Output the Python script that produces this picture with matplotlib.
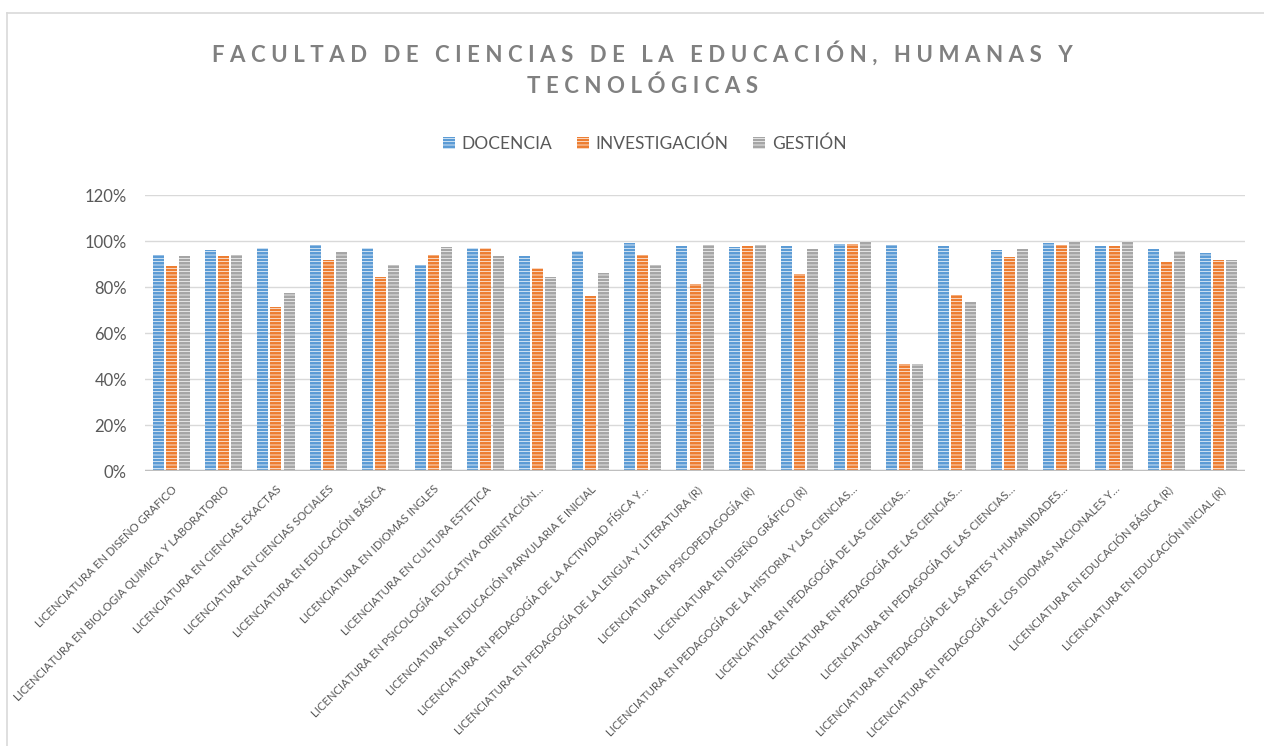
import numpy as np
import matplotlib
matplotlib.use('Agg')
import matplotlib.pyplot as plt
from matplotlib.ticker import PercentFormatter

plt.rcParams['font.family'] = ['Lato', 'DejaVu Sans']
plt.rcParams['hatch.linewidth'] = 0.5

categories = [
    'LICENCIATURA EN DISEÑO GRAFICO',
    'LICENCIATURA EN BIOLOGIA QUIMICA Y LABORATORIO',
    'LICENCIATURA EN CIENCIAS EXACTAS',
    'LICENCIATURA EN CIENCIAS SOCIALES',
    'LICENCIATURA EN EDUCACIÓN BÁSICA',
    'LICENCIATURA EN IDIOMAS INGLES',
    'LICENCIATURA EN CULTURA ESTETICA',
    'LICENCIATURA EN PSICOLOGÍA EDUCATIVA ORIENTACIÓN…',
    'LICENCIATURA EN EDUCACIÓN PARVULARIA E INICIAL',
    'LICENCIATURA EN PEDAGOGÍA DE LA ACTIVIDAD FÍSICA Y…',
    'LICENCIATURA EN PEDAGOGÍA DE LA LENGUA Y LITERATURA (R)',
    'LICENCIATURA EN PSICOPEDAGOGÍA (R)',
    'LICENCIATURA EN DISEÑO GRÁFICO (R)',
    'LICENCIATURA EN PEDAGOGÍA DE LA HISTORIA Y LAS CIENCIAS…',
    'LICENCIATURA EN PEDAGOGÍA DE LAS CIENCIAS…',
    'LICENCIATURA EN PEDAGOGÍA DE LAS CIENCIAS…',
    'LICENCIATURA EN PEDAGOGÍA DE LAS CIENCIAS…',
    'LICENCIATURA EN PEDAGOGÍA DE LAS ARTES Y HUMANIDADES…',
    'LICENCIATURA EN PEDAGOGÍA DE LOS IDIOMAS NACIONALES Y…',
    'LICENCIATURA EN EDUCACIÓN BÁSICA (R)',
    'LICENCIATURA EN EDUCACIÓN INICIAL (R)',
]

docencia = [93.9, 96.2, 96.9, 98.1, 96.9, 89.5, 96.9, 93.6, 95.5, 99.3, 98.0,
            97.2, 97.7, 98.5, 98.1, 98.0, 96.1, 99.0, 98.0, 96.5, 94.8]
investigacion = [89.0, 93.3, 71.2, 91.6, 84.2, 93.9, 96.8, 88.4, 76.2, 94.0, 81.5,
                 98.0, 85.5, 98.8, 46.7, 76.6, 93.0, 98.1, 98.0, 90.7, 91.7]
gestion = [93.6, 94.0, 77.5, 95.1, 89.5, 97.2, 93.6, 84.4, 86.3, 89.7, 98.1,
           98.1, 96.4, 100.0, 46.7, 73.4, 96.5, 100.0, 100.0, 95.6, 91.9]

series_names = ['DOCENCIA', 'INVESTIGACIÓN', 'GESTIÓN']
colors = ['#5B9BD5', '#ED7D31', '#A5A5A5']

fig = plt.figure(figsize=(12.64, 7.46), dpi=100)
ax = fig.add_axes([145 / 1264, 1 - 471 / 746, 1100 / 1264, 276 / 746])

x = np.arange(len(categories))
width = 0.21
step = 0.25
for i, (vals, name, col) in enumerate(zip([docencia, investigacion, gestion], series_names, colors)):
    ax.bar(x + (i - 1) * step, np.array(vals) / 100, width, color=col, edgecolor='white',
           linewidth=0, hatch='-----', label=name, zorder=3)

ax.set_xlim(-0.5, len(categories) - 0.5)
ax.set_ylim(0, 1.2)
ax.set_yticks(np.arange(0, 1.21, 0.2))
ax.yaxis.set_major_formatter(PercentFormatter(1.0, decimals=0))
ax.grid(axis='y', color='#D9D9D9', linewidth=1.0, zorder=0)
ax.axhline(0, color='#BFBFBF', linewidth=2.5, zorder=4)
for s in ax.spines.values():
    s.set_visible(False)
ax.tick_params(axis='y', length=0, pad=13, labelsize=12, labelcolor='#595959')
ax.tick_params(axis='x', length=0, pad=9, labelcolor='#595959')
ax.set_xticks(x)
ax.set_xticklabels(categories, rotation=45, ha='right', rotation_mode='anchor', fontsize=8.2)

title = 'FACULTAD DE CIENCIAS DE LA EDUCACIÓN, HUMANAS Y\nTECNOLÓGICAS'
spaced = '\n'.join('\u2009\u2009'.join(line) for line in title.split('\n'))
fig.text(0.508, 1 - 69 / 746, spaced, ha='center', va='center', fontsize=16,
         fontweight='bold', color='#808080', linespacing=1.55)

fig.legend(loc='center', bbox_to_anchor=(0.51, 1 - 144 / 746), ncol=3, frameon=False,
           fontsize=12.5, labelcolor='#595959', handlelength=0.7, handleheight=0.7,
           handletextpad=0.4, columnspacing=1.4)

# chart border (top and left edges visible)
fig.add_artist(plt.Line2D([7 / 1264, 1], [1 - 13 / 746, 1 - 13 / 746], color='#D9D9D9', linewidth=1.2))
fig.add_artist(plt.Line2D([7 / 1264, 7 / 1264], [0, 1 - 13 / 746], color='#D9D9D9', linewidth=1.2))

fig.savefig('out.png', dpi=100)
